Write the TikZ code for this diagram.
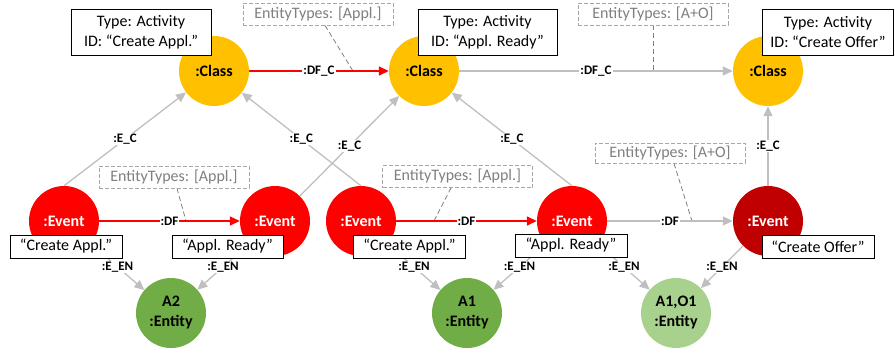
\documentclass[tikz,border=0pt]{standalone}
\usepackage{fontspec}
\setmainfont{Carlito}
\usetikzlibrary{arrows.meta}
\definecolor{clsY}{HTML}{FFC000}
\definecolor{evR}{HTML}{FF0000}
\definecolor{evD}{HTML}{C00000}
\definecolor{enG}{HTML}{70AD47}
\definecolor{enL}{HTML}{A9D18E}
\definecolor{lnG}{HTML}{BFBFBF}
\definecolor{dbG}{HTML}{A6A6A6}
\definecolor{txG}{HTML}{808080}
\pgfdeclarelayer{bg}
\pgfsetlayers{bg,main}
\begin{document}
\begin{tikzpicture}[x=1pt,y=-1pt,
  circ/.style={circle, minimum size=70pt, inner sep=0pt, font=\fontsize{16}{20}\selectfont\bfseries, align=center},
  cls/.style={circ, fill=clsY},
  evt/.style={circ, fill=evR, text=white},
  evtd/.style={circ, fill=evD, text=white},
  ent/.style={circ, fill=enG},
  entl/.style={circ, fill=enL},
  actbox/.style={draw, fill=white, line width=0.9pt, align=center, font=\fontsize{16}{20}\selectfont, inner xsep=3pt, inner ysep=3pt, minimum height=46pt},
  lblbox/.style={draw, fill=white, line width=0.9pt, font=\fontsize{16}{19}\selectfont, minimum height=23pt, minimum width=112pt, inner sep=2pt},
  etbox/.style={draw=dbG, dash pattern=on 4pt off 2pt, fill=white, line width=0.8pt, text=txG, font=\fontsize{16}{19}\selectfont, minimum width=150pt, minimum height=22pt, inner sep=2pt},
  grey/.style={draw=lnG, line width=1.3pt, -{Triangle[length=10pt,width=9pt]}},
  redl/.style={draw=evR, line width=1.5pt, -{Triangle[length=10pt,width=9pt]}},
  elab/.style={font=\fontsize{13}{15}\selectfont\bfseries, fill=white, inner sep=1pt},
  note/.style={draw=txG, dash pattern=on 5pt off 3pt, line width=0.8pt}
]
\useasboundingbox (0,0) rectangle (895,354);

% circles
\node[cls] (C1) at (214,71) {:Class};
\node[cls] (C2) at (424,71) {:Class};
\node[cls] (C3) at (768,71) {:Class};
\node[evt] (E1) at (64,221) {:Event};
\node[evt] (E2) at (275,221) {:Event};
\node[evt] (E3) at (361,221) {:Event};
\node[evt] (E4) at (572,221) {:Event};
\node[evtd] (E5) at (768,221) {:Event};
\node[ent] (N1) at (171,313) {A2\\:Entity};
\node[ent] (N2) at (467,313) {A1\\:Entity};
\node[entl] (N3) at (676,313) {A1,O1\\:Entity};

% activity boxes
\node[actbox, minimum width=140pt] (T1) at (141,32) {Type: Activity\\ID: “Create Appl.”};
\node[actbox, minimum width=139pt] (T2) at (487.5,32) {Type: Activity\\ID: “Appl. Ready”};
\node[actbox, minimum width=131pt] (T3) at (828,32) {Type: Activity\\ID: “Create Offer”};

% event labels
\node[lblbox] (L1) at (66,246.5) {“Create Appl.”};
\node[lblbox, minimum width=111pt] (L2) at (227.5,246.5) {“Appl. Ready”};
\node[lblbox] (L3) at (409.5,246.5) {“Create Appl.”};
\node[lblbox] (L4) at (571,245.5) {“Appl. Ready”};
\node[lblbox] (L5) at (818,246.5) {“Create Offer”};

% entity type notes
\node[etbox] (B1) at (318,14) {EntityTypes: [Appl.]};
\node[etbox] (B2) at (653,14) {EntityTypes: [A+O]};
\node[etbox] (B3) at (174,177) {EntityTypes: [Appl.]};
\node[etbox] (B4) at (457.5,176.5) {EntityTypes: [Appl.]};
\node[etbox, minimum height=20pt] (B5) at (670,153) {EntityTypes: [A+O]};

\coordinate (p1) at (353,71);
\coordinate (p2) at (653,71);
\coordinate (p3) at (186,221);
\coordinate (p4) at (434,221);
\coordinate (p5) at (692,221);

\begin{pgfonlayer}{bg}
\draw[note] ([xshift=7pt]B1.south) -- (p1);
\draw[note] (B2.south) -- (p2);
\draw[note] ([xshift=3pt]B3.south) -- (p3);
\draw[note] ([xshift=-6.5pt]B4.south) -- (p4);
\draw[note] ([xshift=4pt]B5.south) -- (p5);

\draw[redl] (C1) -- node[elab]{:DF\_C} (C2);
\draw[grey] (C2) -- node[elab]{:DF\_C} (C3);
\draw[redl] (E1) -- node[elab]{:DF} (E2);
\draw[redl] (E3) -- node[elab]{:DF} (E4);
\draw[grey] (E4) -- node[elab]{:DF} (E5);

\draw[grey] (E1.north) -- node[elab]{:E\_C} (C1);
\draw[grey] (E3.north) -- node[elab]{:E\_C} (C1);
\draw[grey] (E2) -- node[elab]{:E\_C} (C2);
\draw[grey] (E4.north) -- node[elab]{:E\_C} (C2);
\draw[grey] (E5) -- node[elab]{:E\_C} (C3);

\draw[grey] (E1) -- node[elab]{:E\_EN} (N1);
\draw[grey] (E2) -- node[elab]{:E\_EN} (N1);
\draw[grey] (E3) -- node[elab]{:E\_EN} (N2);
\draw[grey] (E4) -- node[elab]{:E\_EN} (N2);
\draw[grey] (E4) -- node[elab]{:E\_EN} (N3);
\draw[grey] (E5) -- node[elab]{:E\_EN} (N3);
\end{pgfonlayer}
\end{tikzpicture}
\end{document}
